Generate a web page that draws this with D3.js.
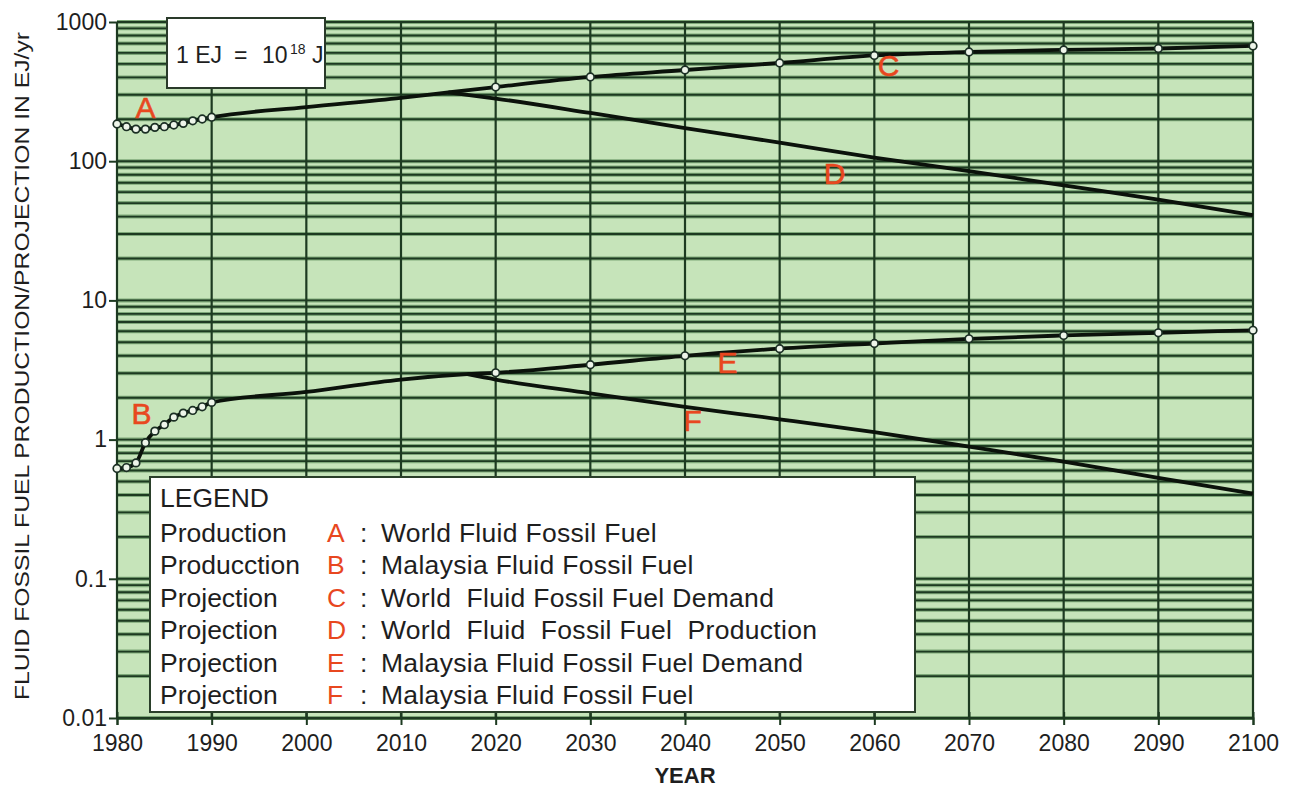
<!DOCTYPE html>
<html>
<head>
<meta charset="utf-8">
<script src="https://cdn.jsdelivr.net/npm/d3@7"></script>
<style>
  body { margin: 0; background: #fff; }
  svg { display: block; font-family: "Liberation Sans", Arial, Helvetica, sans-serif; }
</style>
</head>
<body>
<svg id="chart" width="1293" height="788"></svg>
<script>
// historical production, one point per year
const histYears = [1980, 1981, 1982, 1983, 1984, 1985, 1986, 1987, 1988, 1989, 1990]
const worldHist = [185, 177, 170, 170, 175, 177, 182, 187, 195, 201, 207]
const malaysiaHist = [0.62, 0.63, 0.68, 0.95, 1.15, 1.28, 1.45, 1.55, 1.62, 1.72, 1.85]

// common trend before the demand / production split
const worldSharedYears = [1990, 2000, 2010, 2015]
const worldShared = [207, 245, 285, 312]
const malaysiaSharedYears = [1990, 2000, 2010, 2017]
const malaysiaShared = [1.85, 2.2, 2.7, 2.95]

// projections
const projYears = [2020, 2030, 2040, 2050, 2060, 2070, 2080, 2090, 2100]
const worldDemand = [341, 403, 452, 508, 575, 609, 630, 645, 673]          // C
const worldProduction = [282, 222, 173, 136, 106, 85, 67, 53, 41]          // D
const malaysiaDemand = [3.02, 3.45, 4.0, 4.5, 4.9, 5.3, 5.6, 5.85, 6.1]    // E
const malaysiaProduction = [2.7, 2.15, 1.72, 1.4, 1.13, 0.89, 0.695, 0.53, 0.41] // F

const xTicks = [1980, 1990, 2000, 2010, 2020, 2030, 2040, 2050, 2060, 2070, 2080, 2090, 2100]
const yTicks = [0.01, 0.1, 1, 10, 100, 1000]
const yTickLabels = ['0.01', '0.1', '1', '10', '100', '1000']

const curveLabels = [
  { key: 'A', year: 1983, value: 245 },
  { key: 'B', year: 1982.6, value: 1.55 },
  { key: 'C', year: 2061.5, value: 490 },
  { key: 'D', year: 2055.8, value: 82 },
  { key: 'E', year: 2044.5, value: 3.57 },
  { key: 'F', year: 2040.8, value: 1.37 }
]

const legendRows = [
  ['Production', 'A', 'World Fluid Fossil Fuel'],
  ['Producction', 'B', 'Malaysia Fluid Fossil Fuel'],
  ['Projection', 'C', 'World  Fluid Fossil Fuel Demand'],
  ['Projection', 'D', 'World  Fluid  Fossil Fuel  Production'],
  ['Projection', 'E', 'Malaysia Fluid Fossil Fuel Demand'],
  ['Projection', 'F', 'Malaysia Fluid Fossil Fuel']
]

const svg = d3.select('#chart')
const red = '#e8471f'
const gridDark = '#1d3a21'
const ink = '#1e1e1e'

const x = d3.scaleLinear().domain([1980, 2100]).range([117, 1253])
const y = d3.scaleLog().domain([0.01, 1000]).range([718, 22])

// plot background
svg.append('rect')
  .attr('x', x(1980)).attr('y', y(1000))
  .attr('width', x(2100) - x(1980)).attr('height', y(0.01) - y(1000))
  .attr('fill', '#c6e4ba')

// horizontal log grid
var hLines = []
for (var e = -2; e <= 2; e++) {
  for (var k = 1; k <= 9; k++) hLines.push(k * Math.pow(10, e))
}
hLines.push(1000)

var grid = svg.append('g')
grid.selectAll('line.halo').data(hLines).enter().append('line')
  .attr('class', 'halo')
  .attr('x1', x(1980)).attr('x2', x(2100))
  .attr('y1', (d) => y(d)).attr('y2', (d) => y(d))
  .attr('stroke', '#7ea879').attr('stroke-width', 4)
grid.selectAll('line.h').data(hLines).enter().append('line')
  .attr('class', 'h')
  .attr('x1', x(1980)).attr('x2', x(2100))
  .attr('y1', (d) => y(d)).attr('y2', (d) => y(d))
  .attr('stroke', gridDark).attr('stroke-width', 1.9)
grid.selectAll('line.v').data(xTicks).enter().append('line')
  .attr('class', 'v')
  .attr('x1', (d) => x(d)).attr('x2', (d) => x(d))
  .attr('y1', y(1000)).attr('y2', y(0.01))
  .attr('stroke', gridDark).attr('stroke-width', 2.2)

// axes
var xAxis = svg.append('g')
  .attr('transform', `translate(0,${y(0.01)})`)
  .call(d3.axisBottom(x).tickValues(xTicks).tickFormat(d3.format('d')).tickSize(7).tickPadding(10))
xAxis.select('.domain').attr('stroke', gridDark).attr('stroke-width', 2)
xAxis.selectAll('.tick line').attr('y1', -6).attr('stroke', gridDark).attr('stroke-width', 2)
xAxis.selectAll('.tick text').attr('font-size', 23).attr('fill', ink).attr('font-family', null)

var yAxis = svg.append('g')
  .attr('transform', `translate(${x(1980)},0)`)
  .call(d3.axisLeft(y).tickValues(yTicks).tickFormat((d, i) => yTickLabels[i]).tickSize(8).tickPadding(2))
yAxis.select('.domain').remove()
yAxis.selectAll('.tick line').attr('stroke', gridDark).attr('stroke-width', 2)
yAxis.selectAll('.tick text').attr('font-size', 23).attr('fill', ink).attr('font-family', null)

// curves
var line = d3.line().x((d) => x(d[0])).y((d) => y(d[1])).curve(d3.curveMonotoneX)
var zip = (xs, vs) => xs.map((v, i) => [v, vs[i]])

var worldC = zip(histYears, worldHist).concat(zip(worldSharedYears, worldShared).slice(1), zip(projYears, worldDemand))
var worldD = [[worldSharedYears[3], worldShared[3]]].concat(zip(projYears, worldProduction))
var malE = zip(histYears, malaysiaHist).concat(zip(malaysiaSharedYears, malaysiaShared).slice(1), zip(projYears, malaysiaDemand))
var malF = [[malaysiaSharedYears[3], malaysiaShared[3]]].concat(zip(projYears, malaysiaProduction))

var curves = svg.append('g')
curves.selectAll('path').data([worldC, worldD, malE, malF]).enter().append('path')
  .attr('d', line)
  .attr('fill', 'none')
  .attr('stroke', '#0b120b')
  .attr('stroke-width', 3.8)

var markers = zip(histYears, worldHist).concat(zip(projYears, worldDemand), zip(histYears, malaysiaHist), zip(projYears, malaysiaDemand))
curves.selectAll('circle').data(markers).enter().append('circle')
  .attr('cx', (d) => x(d[0])).attr('cy', (d) => y(d[1]))
  .attr('r', 3.8)
  .attr('fill', '#eef5ea')
  .attr('stroke', '#1b2f24')
  .attr('stroke-width', 1.7)

// curve letters
svg.append('g').selectAll('text').data(curveLabels).enter().append('text')
  .attr('x', (d) => x(d.year)).attr('y', (d) => y(d.value))
  .attr('dy', '0.36em')
  .attr('text-anchor', 'middle')
  .attr('font-size', 30)
  .attr('fill', red)
  .attr('stroke', red).attr('stroke-width', 0.6)
  .text((d) => d.key)

// unit box
var unit = svg.append('g')
unit.append('rect')
  .attr('x', 167).attr('y', 18).attr('width', 158).attr('height', 70)
  .attr('fill', '#fff').attr('stroke', '#2a3a2a').attr('stroke-width', 2)
var unitText = unit.append('text').attr('y', 63).attr('font-size', 23).attr('fill', ink)
unitText.append('tspan').attr('x', 176).text('1 EJ')
unitText.append('tspan').attr('x', 234).text('=')
unitText.append('tspan').attr('x', 262).text('10')
unitText.append('tspan').attr('x', 290).attr('dy', -9).attr('font-size', 14).text('18')
unitText.append('tspan').attr('x', 312).attr('dy', 9).text('J')

// legend
var legend = svg.append('g')
legend.append('rect')
  .attr('x', 150).attr('y', 477).attr('width', 765).attr('height', 235)
  .attr('fill', '#fff').attr('stroke', '#2a3f2a').attr('stroke-width', 2)
legend.append('text')
  .attr('x', 160).attr('y', 497).attr('dy', '0.36em')
  .attr('font-size', 26.5).attr('fill', ink)
  .text('LEGEND')
var rows = legend.selectAll('g.row').data(legendRows).enter().append('g')
  .attr('class', 'row')
  .attr('transform', (d, i) => `translate(0,${532 + i * 32.5})`)
rows.append('text').attr('x', 160).attr('dy', '0.36em')
  .attr('font-size', 26.5).attr('fill', ink).text((d) => d[0])
rows.append('text').attr('x', 327).attr('dy', '0.36em')
  .attr('font-size', 26.5).attr('fill', red).text((d) => d[1])
rows.append('text').attr('x', 360).attr('dy', '0.36em')
  .attr('font-size', 26.5).attr('fill', ink).text(':')
rows.append('text').attr('x', 381).attr('dy', '0.36em')
  .attr('font-size', 26.5).attr('fill', ink)
  .attr('letter-spacing', 0.3)
  .style('white-space', 'pre')
  .text((d) => d[2])

// axis titles
svg.append('text')
  .attr('x', x(2040)).attr('y', 783)
  .attr('text-anchor', 'middle')
  .attr('font-size', 22).attr('font-weight', 'bold').attr('fill', ink)
  .text('YEAR')

svg.append('text')
  .attr('transform', 'translate(29,366) rotate(-90)')
  .attr('text-anchor', 'middle')
  .attr('font-size', 21).attr('fill', ink)
  .attr('textLength', 668).attr('lengthAdjust', 'spacingAndGlyphs')
  .text('FLUID FOSSIL FUEL PRODUCTION/PROJECTION IN EJ/yr')
</script>
</body>
</html>
